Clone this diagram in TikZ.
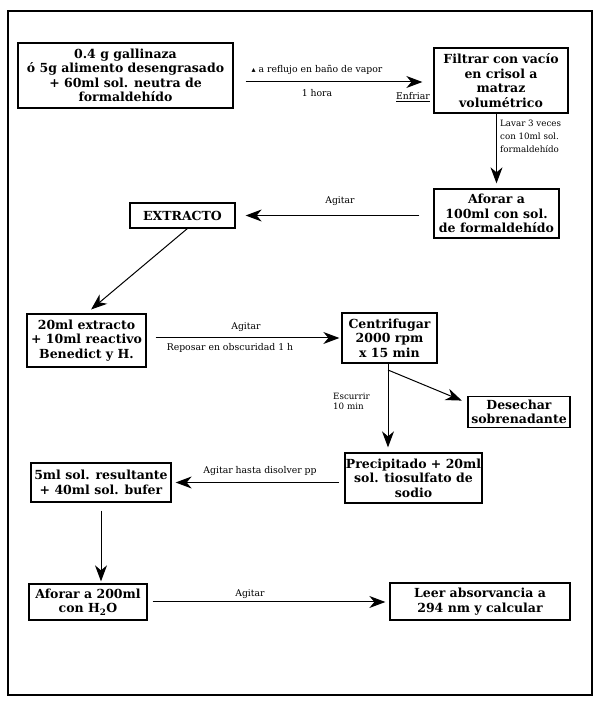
\documentclass[tikz,border=0pt]{standalone}
\usepackage{fontspec}
\setmainfont{DejaVu Serif}
\newfontfamily\trifont{DejaVu Sans}
\usetikzlibrary{arrows.meta}

\tikzset{
    stepbox/.style={draw, line width=1.3pt, align=center, inner sep=1pt,
        font=\fontsize{12.5}{14.5}\selectfont\bfseries},
    flow/.style={-{Stealth[length=16pt,width=12pt,inset=5pt]}, line width=1pt},
    note/.style={font=\fontsize{9.3}{11}\selectfont, inner sep=1pt},
}

\begin{document}
\begin{tikzpicture}[x=1pt,y=1pt]

    \useasboundingbox (0,0) rectangle (600,705);

    % Outer frame
    \draw[line width=1.2pt] (8,10) rectangle (592,694);

    % Make the boxes
    \node[stepbox, minimum width=215pt, minimum height=65pt] (src) at (125.5,629.5)
        {0.4 g gallinaza\\ó 5g alimento desengrasado\\+ 60ml sol. neutra de\\formaldehído};
    \node[stepbox, minimum width=134pt, minimum height=65pt] (filt) at (501,624.5)
        {Filtrar con vacío\\en crisol a\\matraz\\volumétrico};
    \node[stepbox, minimum width=125pt, minimum height=49pt] (afor1) at (496.5,491.5)
        {Aforar a\\100ml con sol.\\de formaldehído};
    \node[stepbox, minimum width=105pt, minimum height=25pt] (ext) at (182.5,489.5)
        {EXTRACTO};
    \node[stepbox, minimum width=119pt, minimum height=53pt] (mix) at (86.5,364.5)
        {20ml extracto\\+ 10ml reactivo\\Benedict y H.};
    \node[stepbox, minimum width=95pt, minimum height=50pt] (cent) at (389.5,367)
        {Centrifugar\\2000 rpm\\x 15 min};
    \node[stepbox, minimum width=102pt, minimum height=31pt] (dese) at (519,293)
        {Desechar\\sobrenadante};
    \node[stepbox, minimum width=137pt, minimum height=50pt] (prec) at (413.5,227)
        {Precipitado + 20ml\\sol. tiosulfato de\\sodio};
    \node[stepbox, minimum width=140pt, minimum height=39pt] (res) at (101,222.5)
        {5ml sol. resultante\\+ 40ml sol. bufer};
    \node[stepbox, minimum width=118pt, minimum height=36pt] (afor2) at (88,103)
        {Aforar a 200ml\\con H\textsubscript{2}O};
    \node[stepbox, minimum width=180pt, minimum height=37pt] (leer) at (480,103.5)
        {Leer absorvancia a\\294 nm y calcular};

    % Branch point under the centrifuge
    \coordinate (br) at (388,335);

    % Connectors
    \draw[flow, shorten <=12pt, shorten >=11pt] (src.east |- 0,623) -- (filt.west |- 0,623);
    \draw[flow, shorten >=5pt] (filt.south -| afor1.north) -- (afor1.north);
    \draw[flow, shorten <=14pt, shorten >=10pt] (afor1.west |- ext.east) -- (ext.east);
    \draw[flow, shorten >=6pt] (ext.-70) -- (mix.north);
    \draw[flow, shorten <=9pt, shorten >=2pt] (mix.east |- cent.west) -- (cent.west);
    \draw[line width=1pt] (cent.south -| br) -- (br);
    \draw[flow, shorten >=5pt] (br) -- (br |- prec.north);
    \draw[flow, shorten >=6pt] (br) -- (dese.170);
    \draw[flow, shorten <=5pt, shorten >=4pt] (prec.west |- res.east) -- (res.east);
    \draw[flow, shorten <=8pt, shorten >=2pt] (res.south) -- (res.south |- afor2.north);
    \draw[flow, shorten <=5pt, shorten >=4pt] (afor2.east) -- (afor2.east -| leer.west);

    % Connector labels
    \node[note] (heat) at (317,635) {{\trifont\fontsize{8}{8}\selectfont ▴} a reflujo en baño de vapor};
    \node[note] (hour) at (317,612) {1 hora};
    \node[note, anchor=east] (cool) at (431,608) {\underline{Enfriar}};
    \node[note, anchor=north west, align=left, font=\fontsize{8.7}{13}\selectfont] (wash) at (499,586)
        {Lavar 3 veces\\con 10ml sol.\\formaldehído};
    \node[note] (shake1) at (340,504) {Agitar};
    \node[note] (shake2) at (246,378) {Agitar};
    \node[note] (rest) at (230,357) {Reposar en obscuridad 1 h};
    \node[note, anchor=north west, align=left, font=\fontsize{8.7}{10}\selectfont] (drain) at (332,313)
        {Escurrir\\10 min};
    \node[note] (shake3) at (260,234) {Agitar hasta disolver pp};
    \node[note] (shake4) at (250,111) {Agitar};

\end{tikzpicture}
\end{document}
